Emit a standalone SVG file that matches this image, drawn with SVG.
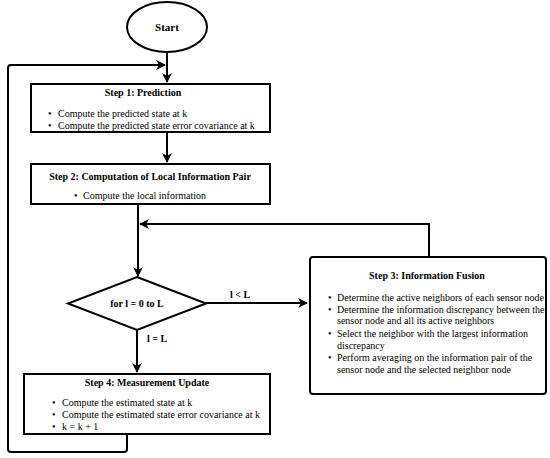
<svg xmlns="http://www.w3.org/2000/svg" width="550" height="458" viewBox="0 0 550 458">
<style>
.box{fill:#fff;stroke:#000;stroke-width:2}
.ln{fill:none;stroke:#000;stroke-width:2}
.t{font-family:"Liberation Serif","Times New Roman",serif;font-size:10px;fill:#000}
.b{font-weight:bold}
.c{text-anchor:middle}
</style>
<defs>
<marker id="ah" viewBox="0 0 10 10" refX="9" refY="5" markerWidth="5" markerHeight="5" orient="auto" markerUnits="strokeWidth">
<path d="M0,0 L10,5 L0,10 L3,5 z" fill="#000"/>
</marker>
</defs>
<rect width="550" height="458" fill="#fff"/>
<g id="connectors">
<path class="ln" d="M167,52 V82" marker-end="url(#ah)"/>
<path class="ln" d="M167,132 V162" marker-end="url(#ah)"/>
<path class="ln" d="M138,204 V276" marker-end="url(#ah)"/>
<path class="ln" d="M429,257 V224 H140" marker-end="url(#ah)"/>
<path class="ln" d="M206,303 H307" marker-end="url(#ah)"/>
<path class="ln" d="M137,330 V372" marker-end="url(#ah)"/>
<path class="ln" d="M127,434 V449 Q127,452 124,452 H11 Q8,452 8,449 V68 Q8,65 11,65 H165" marker-end="url(#ah)"/>
<text class="t b" x="230" y="298">l &lt; L</text>
<text class="t b" x="147" y="342">l = L</text>
</g>
<g id="start">
<ellipse cx="167" cy="27" rx="40" ry="25" class="box"/>
<text class="t b c" x="167" y="31" style="font-size:11px">Start</text>
</g>
<g id="step1">
<rect class="box" x="31" y="84" width="239" height="48"/>
<text class="t b c" x="143" y="96">Step 1: Prediction</text>
<text class="t" x="48" y="117">•</text>
<text class="t" x="58" y="117">Compute the predicted state at k</text>
<text class="t" x="48" y="129">•</text>
<text class="t" x="58" y="129">Compute the predicted state error covariance at k</text>
</g>
<g id="step2">
<rect class="box" x="31" y="164" width="239" height="40"/>
<text class="t b c" x="150" y="180">Step 2: Computation of Local Information Pair</text>
<text class="t" x="74" y="199">•</text>
<text class="t" x="83" y="199">Compute the local information</text>
</g>
<g id="loop">
<polygon class="box" points="137,277 206,303.5 137,330 68,303.5"/>
<text class="t b c" x="137" y="307">for l = 0 to L</text>
</g>
<g id="step3">
<rect class="box" x="310" y="257" width="236" height="137" rx="3"/>
<text class="t b c" x="427" y="279">Step 3: Information Fusion</text>
<text class="t" x="328" y="301">•</text>
<text class="t" x="337" y="301">Determine the active neighbors of each sensor node</text>
<text class="t" x="328" y="313">•</text>
<text class="t" x="337" y="313">Determine the information discrepancy between the</text>
<text class="t" x="337" y="324">sensor node and all its active neighbors</text>
<text class="t" x="328" y="337">•</text>
<text class="t" x="337" y="337">Select the neighbor with the largest information</text>
<text class="t" x="337" y="349">discrepancy</text>
<text class="t" x="328" y="361">•</text>
<text class="t" x="337" y="361">Perform averaging on the information pair of the</text>
<text class="t" x="337" y="373">sensor node and the selected neighbor node</text>
</g>
<g id="step4">
<rect class="box" x="24" y="374" width="246" height="60"/>
<text class="t b c" x="147" y="386">Step 4: Measurement Update</text>
<text class="t" x="52" y="406">•</text>
<text class="t" x="62" y="406">Compute the estimated state at k</text>
<text class="t" x="52" y="418">•</text>
<text class="t" x="62" y="418">Compute the estimated state error covariance at k</text>
<text class="t" x="52" y="430">•</text>
<text class="t" x="62" y="430">k = k + 1</text>
</g>
</svg>
